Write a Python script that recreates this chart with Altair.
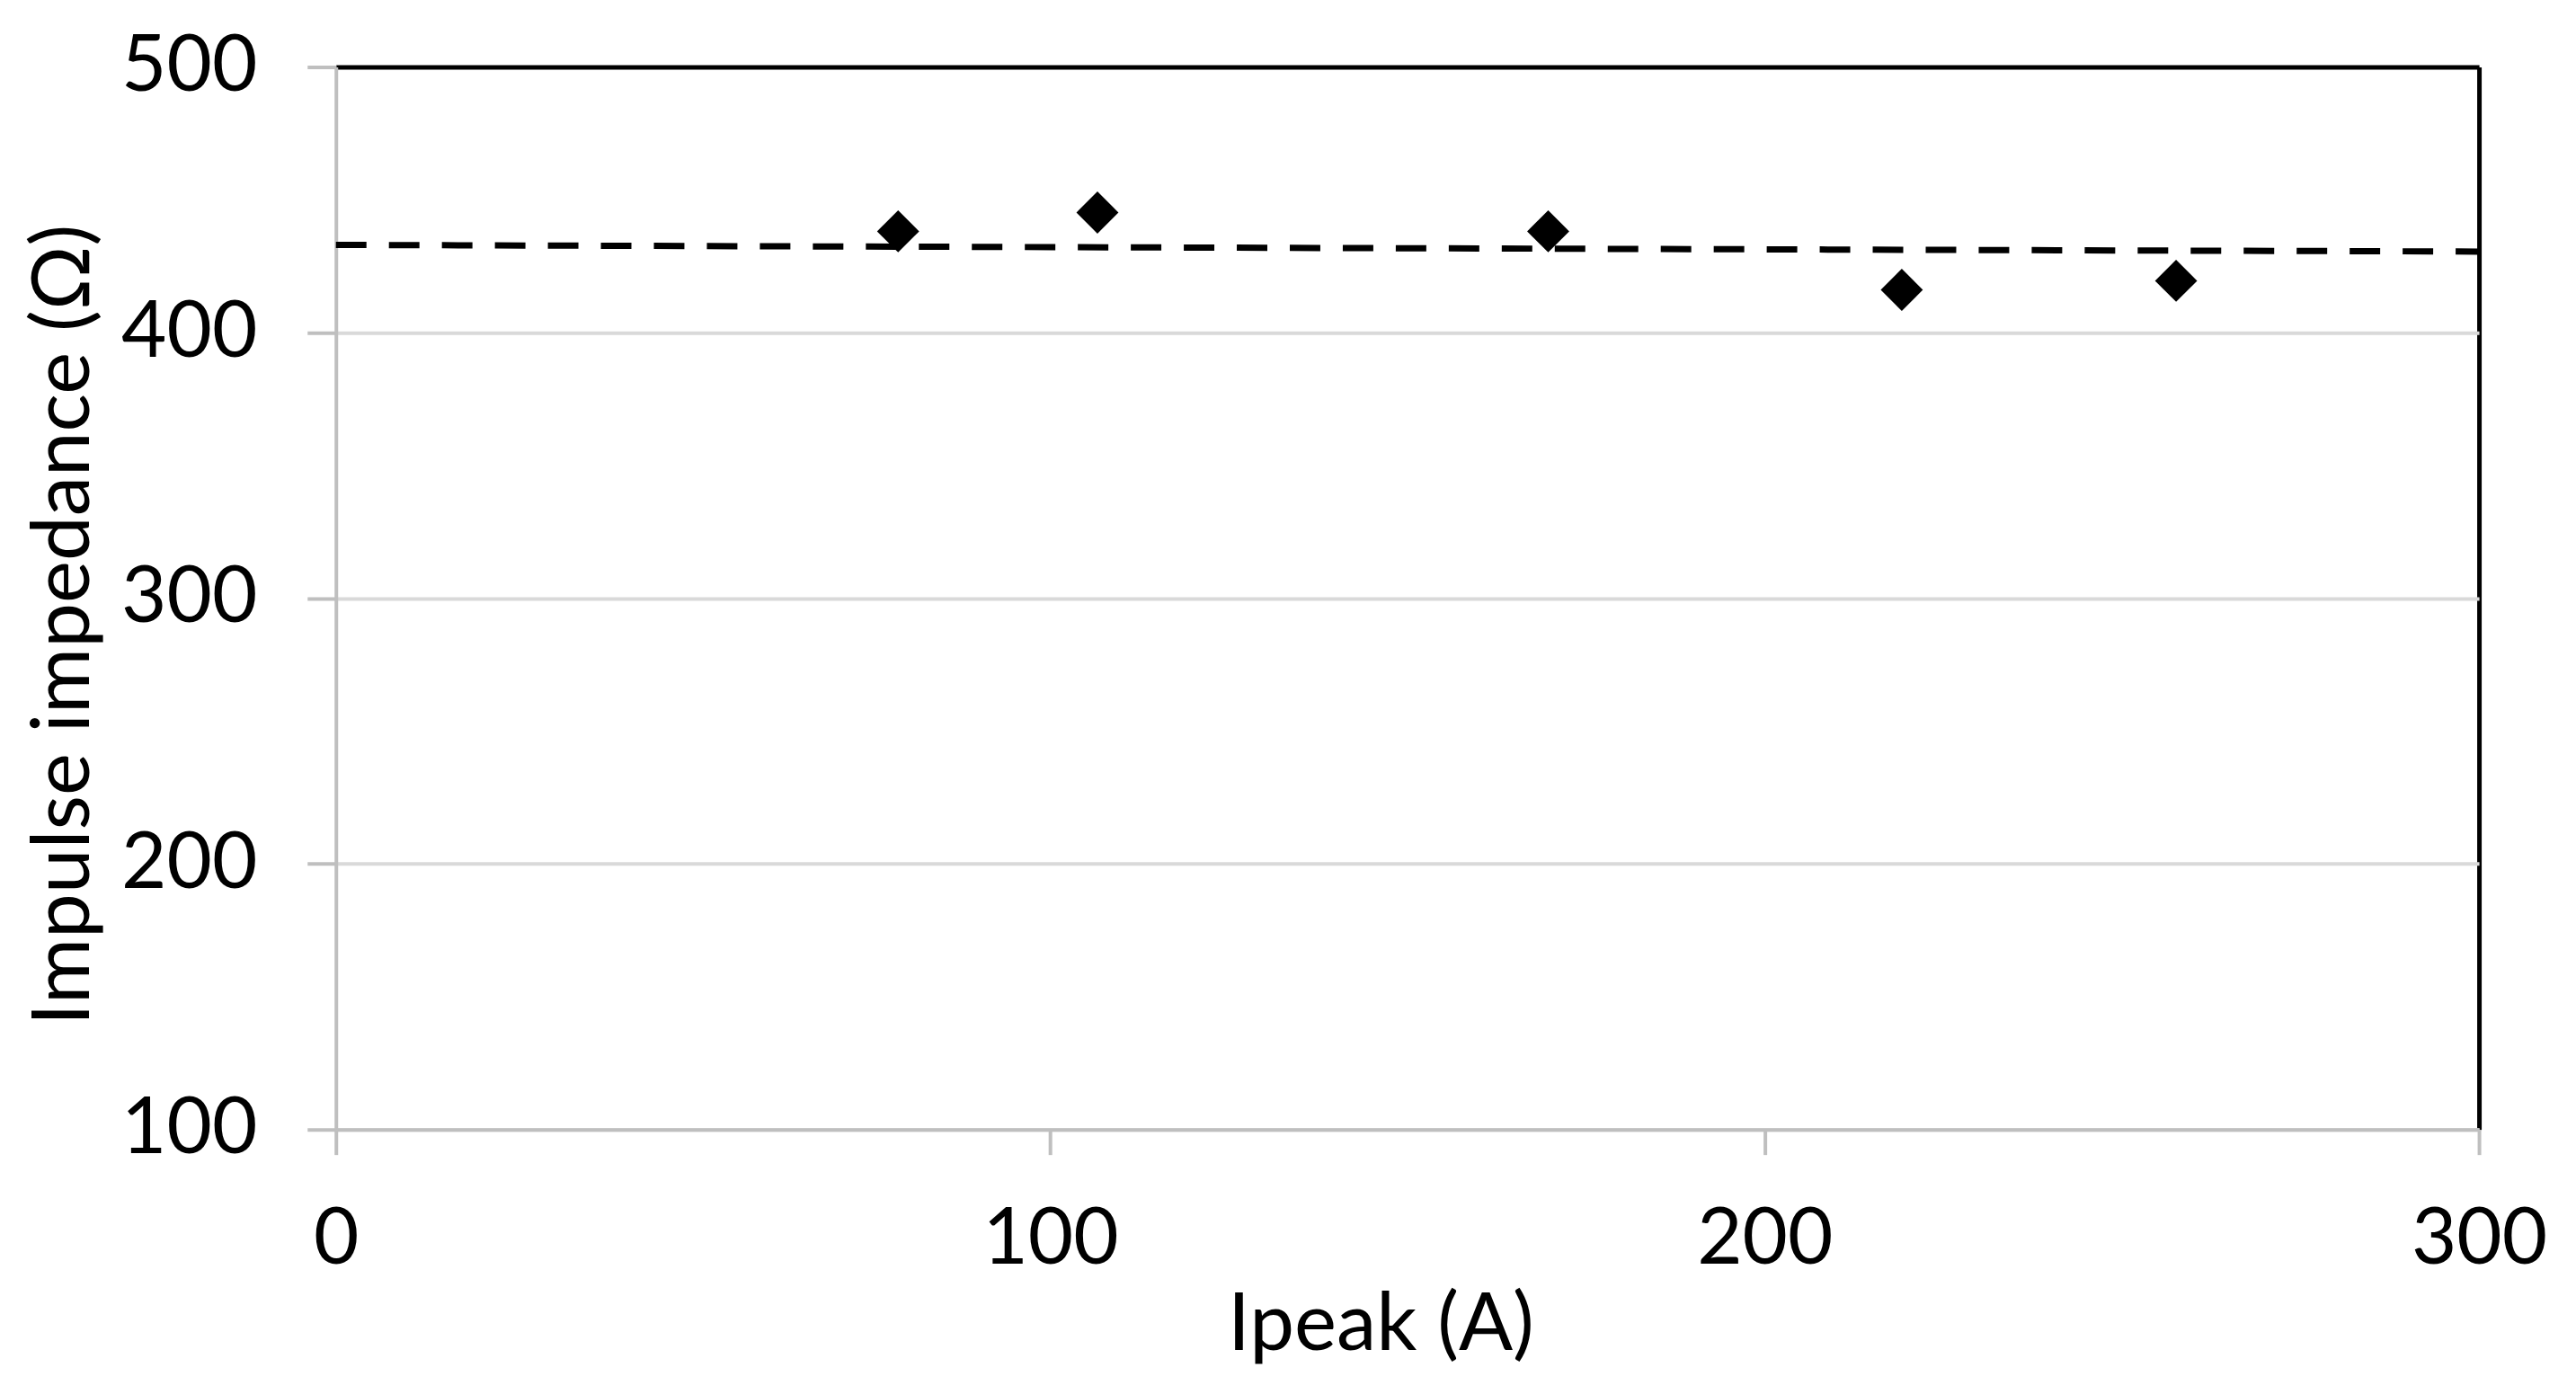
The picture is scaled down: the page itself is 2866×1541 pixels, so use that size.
import altair as alt
import pandas as pd

# Data
ipeak = [78.7, 106.6, 169.7, 219.2, 257.6]
impedance = [438.1, 445.2, 438.1, 416.1, 419.5]
trend_x = [0, 300]
trend_y = [433.0, 430.5]
x_ticks = [0, 100, 200, 300]
y_ticks = [100, 200, 300, 400, 500]

points = pd.DataFrame({"ipeak": ipeak, "impedance": impedance})
trend = pd.DataFrame({"ipeak": trend_x, "impedance": trend_y})

FONT = "Lato"
GRAY = "#bfbfbf"

xscale = alt.Scale(domain=[0, 300], nice=False, zero=False)
yscale = alt.Scale(domain=[100, 500], nice=False, zero=False)

x_axis = alt.Axis(
    values=x_ticks, title="Ipeak (A)", grid=True,
    gridColor=alt.condition("datum.value === 300", alt.value("black"), alt.value("transparent")),
    gridWidth=5,
    domainColor=GRAY, domainWidth=4, tickColor=GRAY, tickWidth=4, tickSize=28,
    labelFont=FONT, labelFontSize=87, labelColor="black", labelPadding=52,
    labelFlush=False, labelOverlap=False,
    titleFont=FONT, titleFontSize=89, titleFontWeight="normal", titleColor="black",
    titleX=1163, titleY=245, titleBaseline="alphabetic", titleAlign="center",
)
y_axis = alt.Axis(
    values=y_ticks, title="Impulse impedance (Ω)", grid=True,
    gridColor=alt.condition("datum.value === 500", alt.value("black"), alt.value("#d9d9d9")),
    gridWidth=alt.condition("datum.value === 500", alt.value(5), alt.value(4)),
    domainColor=GRAY, domainWidth=4, tickColor=GRAY, tickWidth=4, tickSize=32,
    labelFont=FONT, labelFontSize=87, labelColor="black", labelPadding=56,
    labelFlush=False, labelOverlap=False,
    titleFont=FONT, titleFontSize=89, titleFontWeight="normal", titleColor="black",
    titleX=-302, titleY=621, titleBaseline="middle", titleAlign="center", titleAngle=270,
)

line = alt.Chart(trend).mark_line(
    color="black", strokeWidth=7, strokeDash=[34, 25]
).encode(
    x=alt.X("ipeak:Q", scale=xscale, axis=x_axis),
    y=alt.Y("impedance:Q", scale=yscale, axis=y_axis),
)

pts = alt.Chart(points).mark_point(
    shape="diamond", filled=True, size=2200, color="black", opacity=1
).encode(
    x=alt.X("ipeak:Q", scale=xscale),
    y=alt.Y("impedance:Q", scale=yscale),
)

chart = alt.layer(line, pts).properties(
    width=2386, height=1183,
    autosize=alt.AutoSizeParams(type="none"),
    padding={"left": 366, "top": 66, "right": 100, "bottom": 276},
).configure_view(
    stroke=None
).configure(background="white")

chart.save("out.html", embed_options={"renderer": "svg", "actions": False})
